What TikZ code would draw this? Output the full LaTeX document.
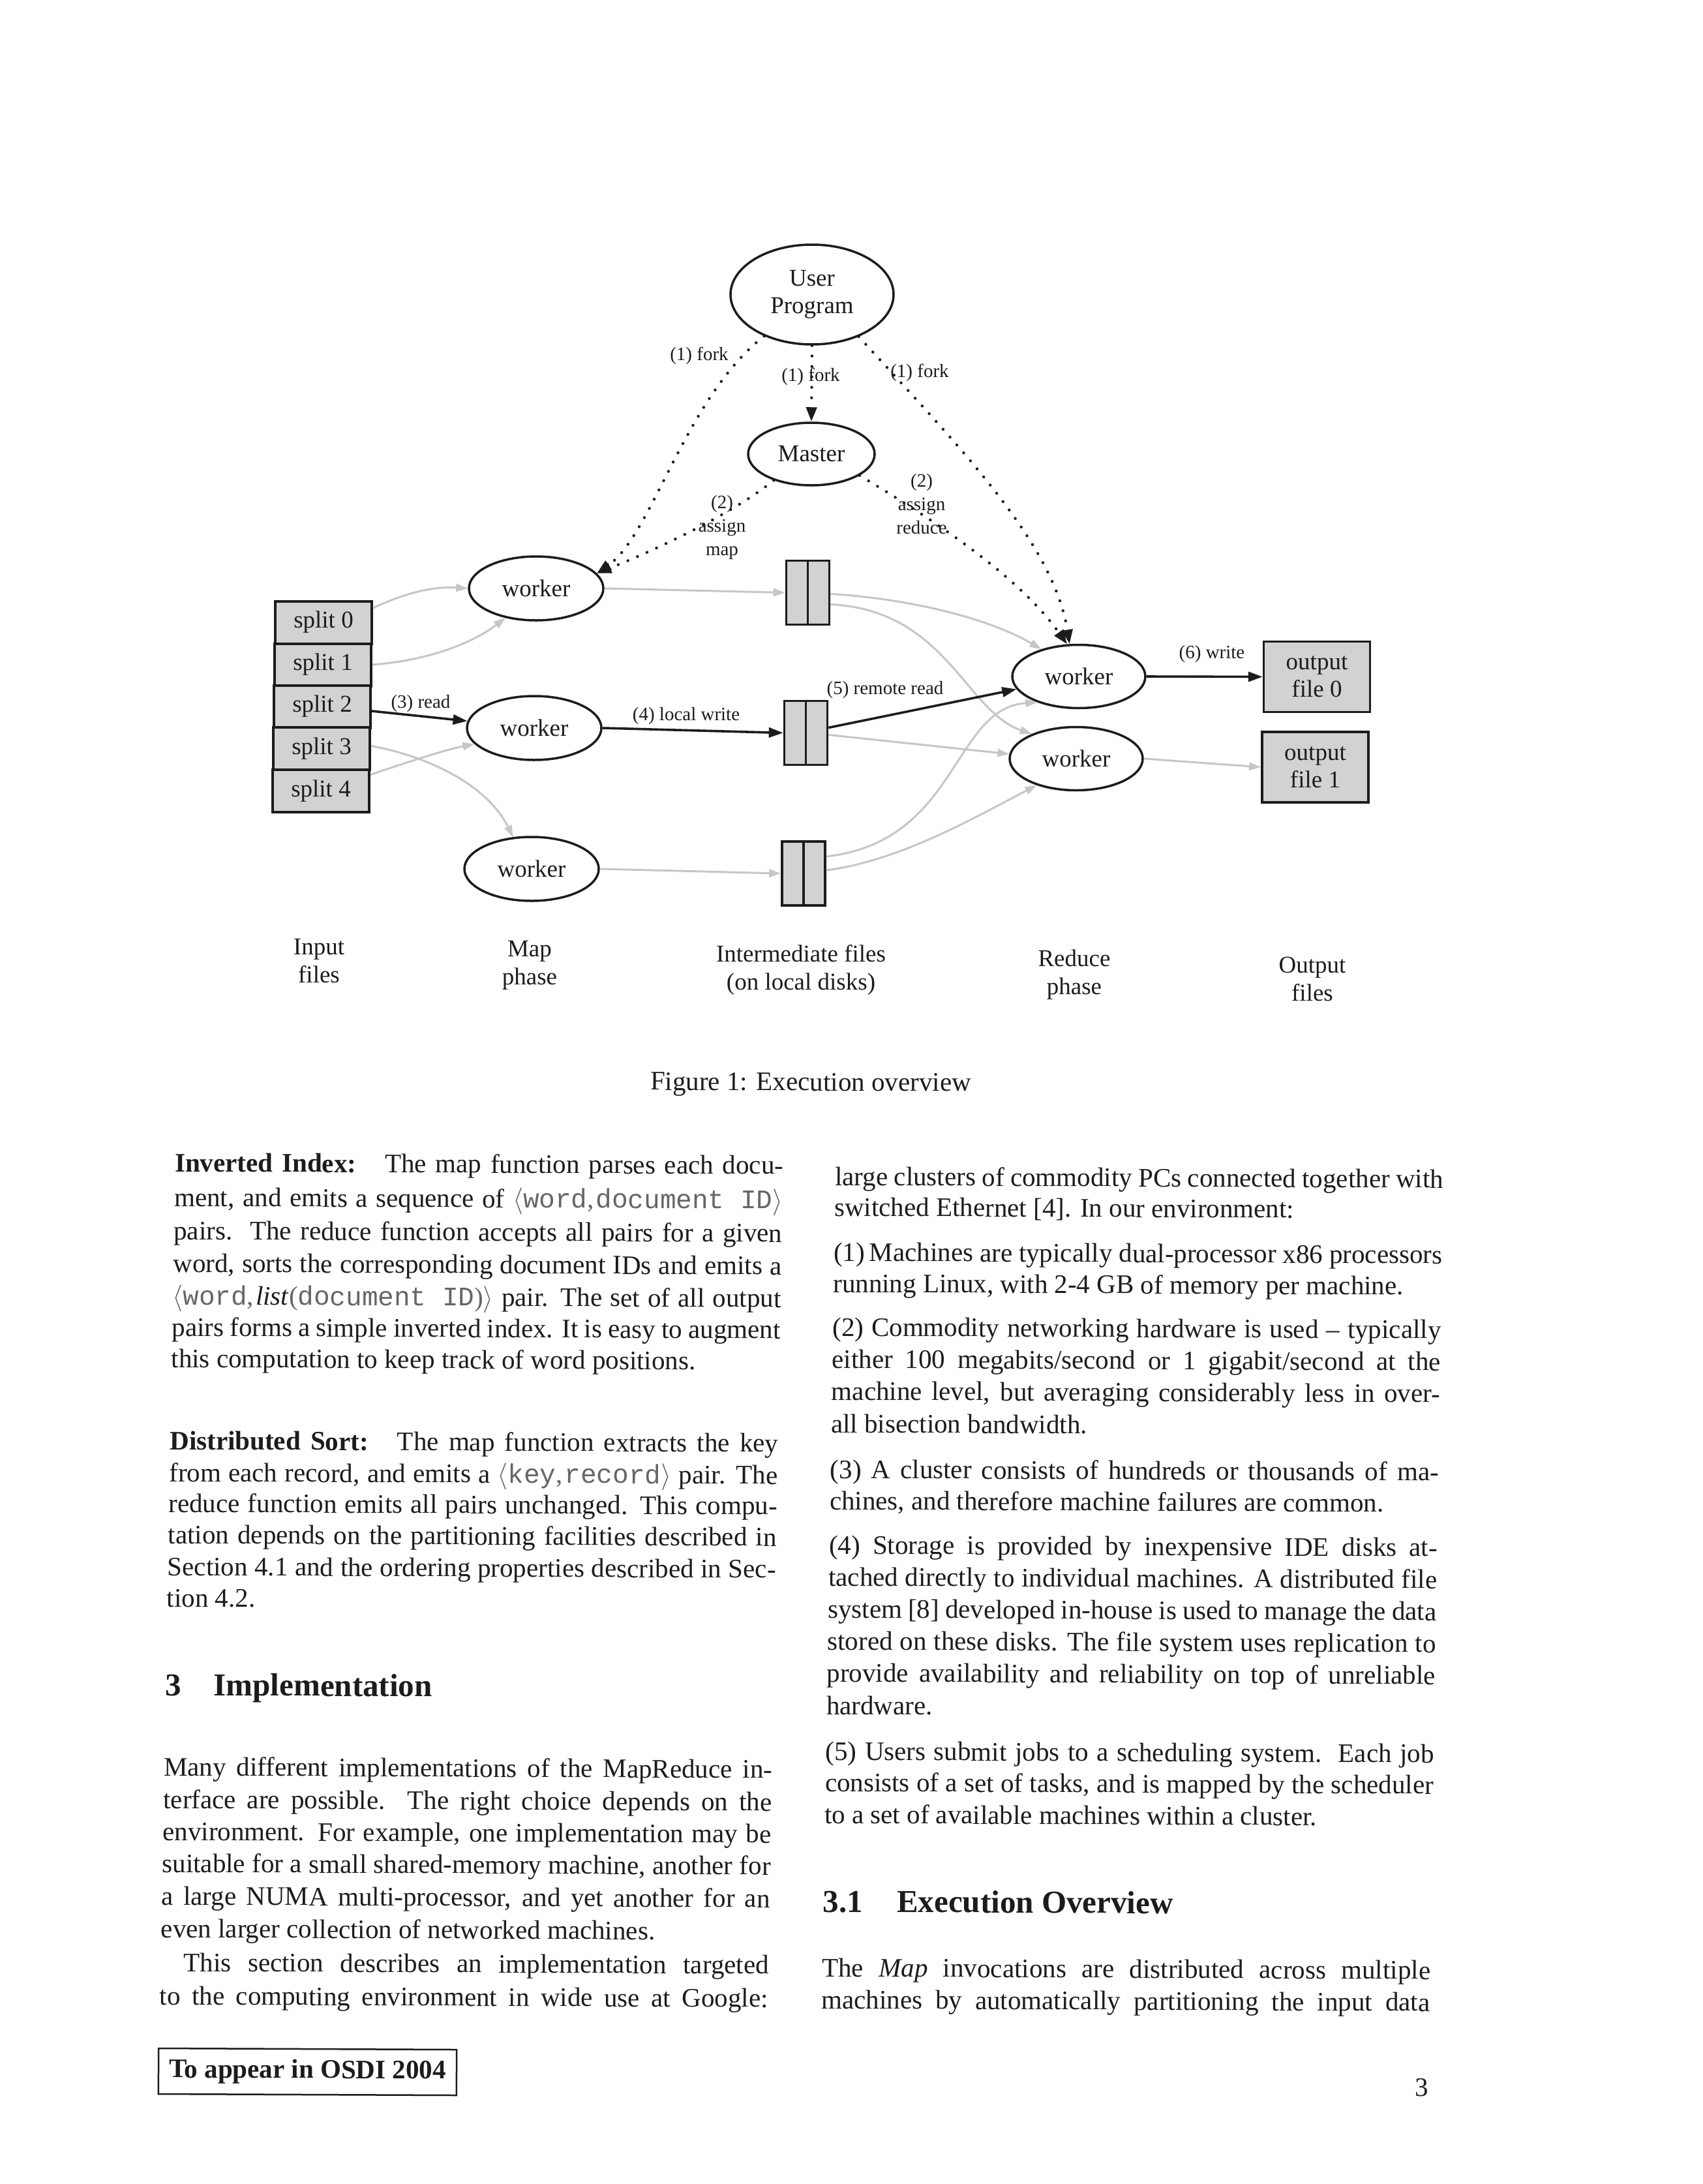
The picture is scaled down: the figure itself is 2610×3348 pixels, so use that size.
\documentclass[tikz,border=0pt]{standalone}
\usepackage{graphicx}
\usepackage{fontspec}
\setmainfont{Liberation Serif}
\setmonofont{Liberation Mono}
\usetikzlibrary{shapes.geometric,arrows.meta,calc}
\definecolor{ink}{HTML}{1C1C1C}
\definecolor{boxfill}{HTML}{D2D2D2}
\definecolor{flow}{HTML}{C6C6C6}
\definecolor{codegray}{HTML}{666666}
\newcommand\bodyfont{\fontsize{41pt}{49pt}\selectfont}
\newcommand\headfont{\fontsize{49pt}{58pt}\selectfont\bfseries}
\newcommand\nodefont{\fontsize{37pt}{42pt}\selectfont}
\newcommand\phasefont{\fontsize{37pt}{43pt}\selectfont}
\newcommand\labfont{\fontsize{29pt}{36pt}\selectfont}
\newcommand\code[1]{\textcolor{codegray}{\ttfamily #1}}
\newcommand\lang{\textcolor{codegray}{\scalebox{4.1}{\fontsize{10pt}{12pt}\selectfont$\langle$}}}
\newcommand\rang{\textcolor{codegray}{\scalebox{4.1}{\fontsize{10pt}{12pt}\selectfont$\rangle$}}}
\newcommand\gcomma{\textcolor{codegray}{,}\kern3pt}
\newcommand\jl[5]{\node[txt,anchor=base west] (#1) at (#2,#3) {\makebox[#4pt][s]{#5}};}
\newcommand\fl[4]{\node[txt,anchor=base west] (#1) at (#2,#3) {#4};}
\begin{document}
\begin{tikzpicture}[x=1pt,y=-1pt,
  txt/.style={font=\bodyfont, inner sep=0pt, text=ink, rotate=-0.25},
  wk/.style={ellipse, draw=ink, line width=3.5pt, fill=white, minimum width=206pt, minimum height=98pt, inner sep=0pt, align=center, font=\nodefont, text=ink},
  splitbox/.style={rectangle, draw=ink, line width=4pt, fill=boxfill, minimum width=148pt, minimum height=65pt, inner sep=0pt, font=\nodefont, text=ink},
  filebox/.style={rectangle, draw=ink, line width=3.5pt, fill=boxfill, minimum width=66pt, minimum height=98pt, inner sep=0pt},
  outbox/.style={rectangle, draw=ink, line width=3.5pt, fill=boxfill, minimum width=163pt, minimum height=108pt, inner sep=0pt, align=center, font=\nodefont, text=ink},
  phaselab/.style={align=center, font=\phasefont, text=ink, inner sep=0pt},
  elab/.style={align=center, font=\labfont, text=ink, inner sep=0pt},
  boldflow/.style={draw=ink, line width=3.6pt, -{Triangle[length=22pt,width=15pt]}},
  lightflow/.style={draw=flow, line width=3pt, -{Triangle[length=18pt,width=12pt]}},
  ctrlflow/.style={draw=ink, line width=4.5pt, line cap=round, dash pattern=on 0pt off 16pt, -{Triangle[length=22pt,width=16pt]}},
]
\fill[white] (0,0) rectangle (2610,3348);
\useasboundingbox (0,0) rectangle (2610,3348);

% ---------------- diagram nodes ----------------
\node[wk, minimum width=250pt, minimum height=153pt] (up) at (1245,451.5) {\raisebox{-6pt}{\begin{tabular}{@{}c@{}}User\\Program\end{tabular}}};
\node[wk, minimum width=194pt, minimum height=96pt] (master) at (1244,696) {Master};
\node[wk] (w1) at (822,902) {worker};
\node[wk] (w2) at (819,1116) {worker};
\node[wk] (w3) at (815,1332) {worker};
\node[wk, minimum width=204pt, minimum height=97pt] (rw1) at (1654,1037) {worker};
\node[wk, minimum width=204pt, minimum height=97pt] (rw2) at (1650,1163) {worker};

\node[splitbox] (s0) at (496,954) {split 0};
\node[splitbox] (s1) at (495,1019) {split 1};
\node[splitbox] (s2) at (494,1083) {split 2};
\node[splitbox] (s3) at (493,1147.5) {split 3};
\node[splitbox] (s4) at (492,1212.5) {split 4};

\node[filebox] (f1) at (1238.5,908.5) {};
\node[filebox] (f2) at (1235.5,1123.5) {};
\node[filebox] (f3) at (1232,1339) {};
\draw[draw=ink, line width=3.5pt] (f1.north) -- (f1.south);
\draw[draw=ink, line width=3.5pt] (f2.north) -- (f2.south);
\draw[draw=ink, line width=3.5pt] (f3.north) -- (f3.south);

\node[outbox] (out0) at (2019,1037.5) {output\\file 0};
\node[outbox] (out1) at (2016.5,1176) {output\\file 1};

% ---------------- light data flows ----------------
\draw[lightflow] ($(s0.east)+(0,-22)$) .. controls (630,905) and (670,899) .. (w1.west);
\draw[lightflow] (s1.east) .. controls (660,1012) and (725,985) .. (w1.224);
\draw[lightflow] ($(s3.east)+(0,-4)$) .. controls (650,1158) and (745,1200) .. (w3.120);
\draw[lightflow] ($(s4.east)+(0,-25)$) .. controls (620,1170) and (680,1150) .. (w2.195);
\draw[lightflow] (w1.east) -- (f1.west);
\draw[lightflow] (w3.east) -- (f3.west);
\draw[lightflow] ($(f1.east)+(0,2)$) .. controls (1400,918) and (1520,950) .. (rw1.144);
\draw[lightflow] ($(f1.east)+(0,18)$) .. controls (1450,935) and (1480,1090) .. (rw2.151);
\draw[lightflow] ($(f2.east)+(0,3)$) -- (rw2.176);
\draw[lightflow] ($(f3.east)+(0,-26)$) .. controls (1470,1290) and (1460,1085) .. (rw1.212);
\draw[lightflow] ($(f3.east)+(0,-5)$) .. controls (1380,1320) and (1500,1250) .. (rw2.214);
\draw[lightflow] (rw2.east) -- (out1.west);

% ---------------- highlighted flows ----------------
\draw[boldflow] ($(s2.east)+(0,7)$) -- (w2);
\draw[boldflow] (w2.east) -- (f2.west);
\draw[boldflow] ($(f2.east)+(0,-8)$) -- (rw1);
\draw[boldflow] (rw1.east) -- (out0.west);

% ---------------- control (dotted) ----------------
\draw[ctrlflow] (up.south) -- (master.north);
\draw[ctrlflow] (up.221) .. controls (1050,610) and (1000,820) .. (w1.14);
\draw[ctrlflow] (master.215) .. controls (1120,790) and (1000,845) .. (w1.14);
\draw[ctrlflow] (up.318) .. controls (1462,676) and (1615,829) .. (rw1.106);
\draw[ctrlflow] (master.336) .. controls (1420,790) and (1560,880) .. (rw1.110);

% ---------------- edge labels ----------------
\node[elab] (lf1) at (1072,545) {(1) fork};
\node[elab] (lf2) at (1243,577) {(1) fork};
\node[elab] (lf3) at (1410,571) {(1) fork};
\node[elab] (lam) at (1107,809) {(2)\\assign\\map};
\node[elab] (lar) at (1413,773) {(2)\\assign\\reduce};
\node[elab] (lrd) at (645,1079) {(3) read};
\node[elab] (llw) at (1052,1098) {(4) local write};
\node[elab] (lrr) at (1357,1058) {(5) remote read};
\node[elab] (lwr) at (1858,1003) {(6) write};

% ---------------- phase labels ----------------
\node[phaselab] (pin) at (489,1473) {Input\\files};
\node[phaselab] (pmap) at (812,1480) {Map\\phase};
\node[phaselab] (pint) at (1228,1487) {Intermediate files\\(on local disks)};
\node[phaselab] (pred) at (1647,1494) {Reduce\\phase};
\node[phaselab] (pout) at (2012,1501) {Output\\files};

\node[txt, anchor=base] (cap) at (1243,1672) {Figure 1: Execution overview};

% ---------------- left column ----------------
\jl{l1}{268}{1796}{933}{\textbf{Inverted Index:}\hspace{44pt}The map function parses each docu-}
\jl{l2}{267.1}{1849}{933}{ment, and emits a sequence of \lang\code{word}\gcomma\code{document ID}\rang}
\jl{l3}{266.1}{1900}{933}{pairs.\ \ The reduce function accepts all pairs for a given}
\jl{l4}{265.2}{1950}{933}{word, sorts the corresponding document IDs and emits a}
\jl{l5}{264.3}{2000}{933}{\lang\code{word}\gcomma\textit{list}\textcolor{codegray}{(}\code{document ID}\textcolor{codegray}{)}\rang{} pair. The set of all output}
\jl{l6}{263.3}{2048}{933}{pairs forms a simple inverted index. It is easy to augment}
\fl{l7}{262.4}{2096}{this computation to keep track of word positions.}
\jl{d1}{260.2}{2222}{933}{\textbf{Distributed Sort:}\hspace{44pt}The map function extracts the key}
\jl{d2}{259.3}{2271}{933}{from each record, and emits a \lang\code{key}\gcomma\code{record}\rang{} pair. The}
\jl{d3}{258.4}{2318}{933}{reduce function emits all pairs unchanged. This compu-}
\jl{d4}{257.5}{2366}{933}{tation depends on the partitioning facilities described in}
\jl{d5}{256.6}{2415}{933}{Section 4.1 and the ordering properties described in Sec-}
\fl{d6}{255.7}{2463}{tion 4.2.}
\node[txt, font=\headfont, anchor=base west] (h3) at (253.1,2599) {3\hspace{50pt}Implementation};
\jl{m1}{251.1}{2722}{933}{Many different implementations of the MapReduce in-}
\jl{m2}{250.2}{2772}{933}{terface are possible.\ \ The right choice depends on the}
\jl{m3}{249.3}{2821}{933}{environment. For example, one implementation may be}
\jl{m4}{248.4}{2870}{933}{suitable for a small shared-memory machine, another for}
\jl{m5}{247.5}{2920}{933}{a large NUMA multi-processor, and yet another for an}
\fl{m6}{246.6}{2970}{even larger collection of networked machines.}
\jl{m7}{281.5}{3022}{897}{This section describes an implementation targeted}
\jl{m8}{244.6}{3073}{933}{to the computing environment in wide use at Google:}
\node[draw=ink, line width=2.5pt, font=\bodyfont\bfseries, text=ink, rotate=-0.25, minimum width=457pt, minimum height=70pt, inner sep=0pt] (osdi) at (471.5,3176) {To appear in OSDI 2004};

% ---------------- right column ----------------
\jl{r1}{1280}{1817}{933}{large clusters of commodity PCs connected together with}
\fl{r2}{1279.2}{1864}{switched Ethernet [4]. In our environment:}
\jl{r3}{1278}{1933}{933}{(1)\,Machines are typically dual-processor x86 processors}
\fl{r4}{1277.2}{1981}{running Linux, with 2-4 GB of memory per machine.}
\jl{r5}{1276.3}{2048}{933}{(2) Commodity networking hardware is used -- typically}
\jl{r6}{1275.5}{2097}{933}{either 100 megabits/second or 1 gigabit/second at the}
\jl{r7}{1274.7}{2146}{933}{machine level, but averaging considerably less in over-}
\fl{r8}{1273.9}{2196}{all bisection bandwidth.}
\jl{r9}{1272.7}{2266}{933}{(3) A cluster consists of hundreds or thousands of ma-}
\fl{r10}{1271.9}{2314}{chines, and therefore machine failures are common.}
\jl{r11}{1270.8}{2382}{933}{(4) Storage is provided by inexpensive IDE disks at-}
\jl{r12}{1270.1}{2431}{933}{tached directly to individual machines. A distributed file}
\jl{r13}{1269.2}{2480}{933}{system [8] developed in-house is used to manage the data}
\jl{r14}{1268.4}{2529}{933}{stored on these disks. The file system uses replication to}
\jl{r15}{1267.5}{2578}{933}{provide availability and reliability on top of unreliable}
\fl{r16}{1266.8}{2628}{hardware.}
\jl{r17}{1265.5}{2698}{933}{(5) Users submit jobs to a scheduling system.\ \ Each job}
\jl{r18}{1264.8}{2746}{933}{consists of a set of tasks, and is mapped by the scheduler}
\fl{r19}{1263.9}{2795}{to a set of available machines within a cluster.}
\node[txt, font=\headfont, anchor=base west] (h31) at (1261.7,2931) {3.1\hspace{52pt}Execution Overview};
\jl{r20}{1260}{3030}{933}{The \textit{Map} invocations are distributed across multiple}
\jl{r21}{1259.1}{3079}{933}{machines by automatically partitioning the input data}

\node[txt, anchor=base] (pg) at (2180,3214) {3};
\end{tikzpicture}
\end{document}
